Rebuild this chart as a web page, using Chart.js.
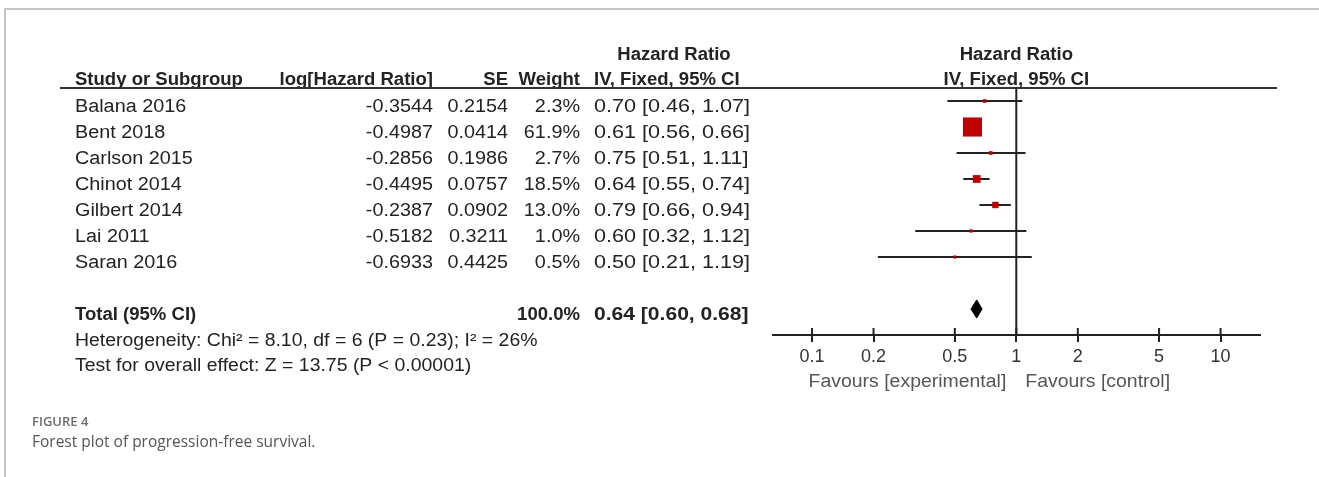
<!DOCTYPE html>
<html>
<head>
<meta charset="utf-8">
<script src="https://cdn.jsdelivr.net/npm/chart.js@4.4.1/dist/chart.umd.min.js"></script>
<style>
  html, body { margin: 0; padding: 0; background: #fff; }
  #wrap { position: relative; width: 1319px; height: 477px; }
</style>
</head>
<body>
<div id="wrap"><canvas id="forest"></canvas></div>
<script>
// données de l'étude
const studies = ['Balana 2016', 'Bent 2018', 'Carlson 2015', 'Chinot 2014', 'Gilbert 2014', 'Lai 2011', 'Saran 2016'];
const logHR = [-0.3544, -0.4987, -0.2856, -0.4495, -0.2387, -0.5182, -0.6933];
const se = [0.2154, 0.0414, 0.1986, 0.0757, 0.0902, 0.3211, 0.4425];
const weight = [2.3, 61.9, 2.7, 18.5, 13.0, 1.0, 0.5];
const hr = [0.70, 0.61, 0.75, 0.64, 0.79, 0.60, 0.50];
const lower = [0.46, 0.56, 0.51, 0.55, 0.66, 0.32, 0.21];
const upper = [1.07, 0.66, 1.11, 0.74, 0.94, 1.12, 1.19];
const totalHR = [0.64];
const totalLower = [0.60];
const totalUpper = [0.68];
const totalWeight = [100.0];
const tickValues = [0.1, 0.2, 0.5, 1, 2, 5, 10];
const heterogeneity = 'Heterogeneity: Chi\u00b2 = 8.10, df = 6 (P = 0.23); I\u00b2 = 26%';
const overallEffect = 'Test for overall effect: Z = 13.75 (P < 0.00001)';

const totalRow = studies.length + 1; // une ligne vide avant le total
const FONT = "'Liberation Sans', Arial, sans-serif";
const INK = '#232323';

// texte avec un léger étirement horizontal (comme l'image RevMan)
function put(ctx, str, x, y, align, bold, size, color, sx) {
    ctx.save();
    ctx.font = (bold ? 'bold ' : '') + size + 'px ' + FONT;
    ctx.fillStyle = color;
    ctx.textAlign = align;
    ctx.textBaseline = 'alphabetic';
    ctx.translate(x, y);
    ctx.scale(sx, 1);
    ctx.fillText(str, 0, 0);
    ctx.restore();
}

// Plugin pour le tableau à gauche, les en-têtes et le cadre
const forestTablePlugin = {
    id: 'forestTable',
    afterDraw(chart) {
        const { ctx, chartArea } = chart;
        const xs = chart.scales.x;
        const ys = chart.scales.y;
        const N = 1.1, B = 1.03, CI = 1.2;

        // cadre gris
        ctx.save();
        ctx.strokeStyle = '#c4c4c4';
        ctx.lineWidth = 2;
        ctx.beginPath();
        ctx.moveTo(5, 477);
        ctx.lineTo(5, 9);
        ctx.lineTo(1319, 9);
        ctx.stroke();
        ctx.restore();

        // colonnes
        const nameX = 75, logX = 433, seX = 508, wX = 580, ciX = 594;
        const midX = xs.getPixelForValue(1);

        // en-têtes
        put(ctx, 'Hazard Ratio', 674, 60, 'center', true, 18, INK, B);
        put(ctx, 'Hazard Ratio', midX, 60, 'center', true, 18, INK, B);
        put(ctx, 'Study or Subgroup', nameX, 85, 'left', true, 18, INK, B);
        put(ctx, 'log[Hazard Ratio]', logX, 85, 'right', true, 18, INK, B);
        put(ctx, 'SE', seX, 85, 'right', true, 18, INK, B);
        put(ctx, 'Weight', wX, 85, 'right', true, 18, INK, B);
        put(ctx, 'IV, Fixed, 95% CI', ciX, 85, 'left', true, 18, INK, B);
        put(ctx, 'IV, Fixed, 95% CI', midX, 85, 'center', true, 18, INK, B);

        // ligne d'en-tête
        ctx.save();
        ctx.strokeStyle = '#333';
        ctx.lineWidth = 2;
        ctx.beginPath();
        ctx.moveTo(60, chartArea.top);
        ctx.lineTo(1277, chartArea.top);
        ctx.stroke();
        ctx.restore();

        // lignes des études
        studies.forEach((name, i) => {
            const y = ys.getPixelForValue(i) + 11;
            put(ctx, name, nameX, y, 'left', false, 18, INK, N);
            put(ctx, logHR[i].toFixed(4), logX, y, 'right', false, 18, INK, N);
            put(ctx, se[i].toFixed(4), seX, y, 'right', false, 18, INK, N);
            put(ctx, weight[i].toFixed(1) + '%', wX, y, 'right', false, 18, INK, N);
            put(ctx, `${hr[i].toFixed(2)} [${lower[i].toFixed(2)}, ${upper[i].toFixed(2)}]`, ciX, y, 'left', false, 18, INK, CI);
        });

        // total
        const ty = ys.getPixelForValue(totalRow) + 11;
        put(ctx, 'Total (95% CI)', nameX, ty, 'left', true, 18, INK, B);
        put(ctx, totalWeight[0].toFixed(1) + '%', wX, ty, 'right', true, 18, INK, B);
        put(ctx, `${totalHR[0].toFixed(2)} [${totalLower[0].toFixed(2)}, ${totalUpper[0].toFixed(2)}]`, ciX, ty, 'left', true, 18, INK, 1.17);
        put(ctx, heterogeneity, nameX, ty + 26, 'left', false, 18, INK, 1.08);
        put(ctx, overallEffect, nameX, ty + 51, 'left', false, 18, INK, 1.08);

        // petites marques au-dessus de l'axe
        ctx.save();
        ctx.strokeStyle = '#222';
        ctx.lineWidth = 2;
        xs.ticks.forEach(t => {
            const px = xs.getPixelForValue(t.value);
            ctx.beginPath();
            ctx.moveTo(px, chartArea.bottom - 7);
            ctx.lineTo(px, chartArea.bottom);
            ctx.stroke();
        });
        ctx.restore();

        // légende sous l'axe
        put(ctx, 'Favours [experimental]', midX - 10, 387, 'right', false, 18, '#555', 1.08);
        put(ctx, 'Favours [control]', midX + 9, 387, 'left', false, 18, '#555', 1.08);

        // légende de la figure
        ctx.save();
        ctx.fillStyle = '#6b6b6b';
        ctx.font = "600 13px 'Open Sans', sans-serif";
        ctx.textBaseline = 'alphabetic';
        ctx.fillText('FIGURE 4', 32, 426);
        ctx.fillStyle = '#555';
        ctx.font = "15.5px 'Open Sans', sans-serif";
        ctx.fillText('Forest plot of progression-free survival.', 32, 447);
        ctx.restore();
    }
};

// intervalles de confiance
const ciDatasets = studies.map((s, i) => ({
    type: 'line',
    data: [{ x: lower[i], y: i }, { x: upper[i], y: i }],
    borderColor: '#222',
    borderWidth: 2,
    pointRadius: 0,
    order: 2
}));

// côté du carré ~ 3 px + 0.26 px par % de poids (rayon = côté / √2 pour 'rect')
const squares = {
    type: 'scatter',
    data: hr.map((v, i) => ({ x: v, y: i })),
    pointStyle: 'rect',
    pointRadius: weight.map(w => (3 + 0.26 * w) / Math.SQRT2),
    backgroundColor: '#c00000',
    borderColor: '#c00000',
    borderWidth: 0,
    order: 0
};

const DH = 0.35; // demi-hauteur du losange (en lignes)
const diamond = {
    type: 'line',
    data: [
        { x: totalLower[0], y: totalRow },
        { x: totalHR[0], y: totalRow - DH },
        { x: totalUpper[0], y: totalRow },
        { x: totalHR[0], y: totalRow + DH },
        { x: totalLower[0], y: totalRow }
    ],
    borderColor: '#000',
    backgroundColor: '#000',
    borderWidth: 1,
    pointRadius: 0,
    tension: 0,
    fill: 'shape',
    order: 0
};

const nullLine = {
    type: 'line',
    data: [{ x: 1, y: -0.5 }, { x: 1, y: totalRow + 1 }],
    borderColor: '#222',
    borderWidth: 2,
    pointRadius: 0,
    order: 3
};

new Chart(document.getElementById('forest'), {
    type: 'scatter',
    data: { datasets: [squares, diamond, ...ciDatasets, nullLine] },
    options: {
        responsive: true,
        maintainAspectRatio: false,
        animation: false,
        layout: { padding: { left: 773, right: 59, top: 88, bottom: 112 } },
        plugins: {
            legend: { display: false },
            tooltip: { enabled: false }
        },
        scales: {
            x: {
                type: 'logarithmic',
                min: 0.0644,
                max: 15.6,
                afterBuildTicks: (scale) => {
                    scale.ticks = tickValues.map(v => ({ value: v }));
                },
                afterFit: (scale) => { scale.height = 30; },
                border: { display: true, color: '#222', width: 2 },
                grid: { drawOnChartArea: false, drawTicks: true, tickLength: 7, color: '#222', lineWidth: 2 },
                ticks: {
                    color: '#333',
                    font: { family: FONT, size: 18 },
                    padding: 4,
                    maxRotation: 0,
                    autoSkip: false,
                    callback: (v) => String(v)
                }
            },
            y: {
                type: 'linear',
                reverse: true,
                min: -0.5,
                max: totalRow + 1,
                display: false
            }
        }
    },
    plugins: [forestTablePlugin]
});
</script>
</body>
</html>
